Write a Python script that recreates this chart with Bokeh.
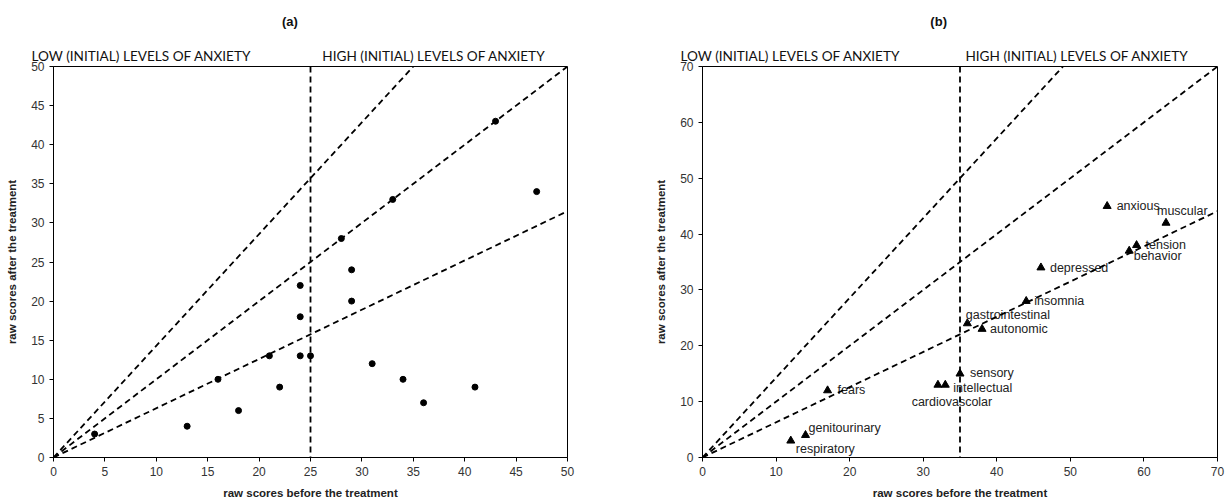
from bokeh.plotting import figure
from bokeh.layouts import row
from bokeh.models import Range1d, Span, Slope, FixedTicker, ColumnDataSource, LinearAxis
from bokeh.core.properties import value
from bokeh.embed import file_html
from bokeh.resources import INLINE

# ---- data (a) ----
a_before = [4, 13, 16, 18, 21, 22, 24, 24, 24, 25, 28, 29, 29, 31, 33, 34, 36, 41, 43, 47]
a_after = [3, 4, 10, 6, 13, 9, 22, 18, 13, 13, 28, 24, 20, 12, 33, 10, 7, 9, 43, 34]
a_ticks = [0, 5, 10, 15, 20, 25, 30, 35, 40, 45, 50]
a_cut = 25

# ---- data (b) ----
b_names = ["respiratory", "genitourinary", "fears", "cardiovascolar", "intellectual",
           "sensory", "gastrointestinal", "autonomic", "insomnia", "depressed",
           "anxious", "muscular", "tension", "behavior"]
b_before = [12, 14, 17, 32, 33, 35, 36, 38, 44, 46, 55, 63, 59, 58]
b_after = [3, 4, 12, 13, 13, 15, 24, 23, 28, 34, 45, 42, 38, 37]
b_ticks = [0, 10, 20, 30, 40, 50, 60, 70]
b_cut = 35

# reference line gradients
slopes = [1 / 0.7, 1.0, 0.63]

header_texts = ["LOW (INITIAL) LEVELS OF ANXIETY", "HIGH (INITIAL) LEVELS OF ANXIETY"]

# label placement (screen px offsets; style only)
lab_dx = [5, 3, 10, 14, 8, 10, -1.5, 8, 8, 9, 9.5, -9, 9, 4.5]
lab_dy = [8, -7, 0, 17, 3, -1, -8.5, 0, 0, 0, 0, -12, 0, 5]
lab_align = ["left", "left", "left", "center", "left", "left", "left", "left", "left",
             "left", "left", "left", "left", "left"]

TICK_FONT = "Liberation Sans"
HEAD_FONT = "Lato"
XT = "raw scores before the treatment"
YT = "raw scores after the treatment"


def base_fig(width, left, right, xmax, ticks):
    p = figure(width=width, height=504, output_backend="svg", toolbar_location=None,
               x_range=Range1d(0, xmax), y_range=Range1d(0, xmax),
               min_border_left=left, min_border_right=right,
               min_border_top=66, min_border_bottom=47)
    p.grid.visible = False
    p.outline_line_color = "black"
    p.outline_line_width = 1
    p.background_fill_color = "white"
    p.border_fill_color = "white"
    for ax, lab in ((p.xaxis, XT), (p.yaxis, YT)):
        ax.ticker = FixedTicker(ticks=ticks)
        ax.axis_label = lab
        ax.axis_label_text_font = TICK_FONT
        ax.axis_label_text_font_style = "bold"
        ax.axis_label_text_font_size = "11.5px"
        ax.axis_label_text_color = "#222222"
        ax.major_label_text_font = TICK_FONT
        ax.major_label_text_font_size = "12px"
        ax.major_label_text_color = "#333333"
        ax.axis_line_color = "black"
        ax.major_tick_line_color = "black"
        ax.major_tick_in = 0
        ax.major_tick_out = 4
        ax.minor_tick_line_color = None
        ax.major_label_standoff = 5
    p.xaxis.axis_label_standoff = 8
    p.yaxis.axis_label_standoff = 10
    for g in slopes:
        p.add_layout(Slope(gradient=g, y_intercept=0, line_color="black",
                           line_width=1.8, line_dash="6 4"))
    return p


def text_axis(p, positions, texts, font, size, style, standoff):
    ax = LinearAxis(ticker=FixedTicker(ticks=positions),
                    major_label_overrides=dict(zip(positions, texts)))
    ax.axis_line_color = None
    ax.major_tick_line_color = None
    ax.minor_tick_line_color = None
    ax.major_tick_in = 0
    ax.major_tick_out = 0
    ax.major_label_standoff = standoff
    ax.major_label_text_font = font
    ax.major_label_text_font_size = size
    ax.major_label_text_font_style = style
    ax.major_label_text_color = "#111111"
    p.add_layout(ax, "above")


# ---- panel (a) ----
pa = base_fig(615, 53, 48, 50, a_ticks)
pa.add_layout(Span(location=a_cut, dimension="height", line_color="black",
                   line_width=1.8, line_dash="6 4"))
pa.scatter(a_before, a_after, size=6, color="black", marker="circle")
text_axis(pa, [8.56, 37.0], header_texts, HEAD_FONT, "13.6px", "normal", 3)
text_axis(pa, [23.0], ["(a)"], TICK_FONT, "13px", "bold", 16)

# ---- panel (b) ----
pb = base_fig(614, 87, 12, 70, b_ticks)
pb.add_layout(Span(location=b_cut, dimension="height", line_color="black",
                   line_width=1.8, line_dash="6 4"))
src = ColumnDataSource(dict(x=b_before, y=b_after, name=b_names,
                            dx=lab_dx, dy=lab_dy, al=lab_align))
pb.scatter("x", "y", source=src, size=8, color="black", marker="triangle")
pb.text("x", "y", text="name", source=src, x_offset="dx", y_offset="dy",
        text_align="al", text_baseline="middle", text_font=value(TICK_FONT),
        text_font_size="12.5px", text_color="#222222")
text_axis(pb, [11.96, 50.9], header_texts, HEAD_FONT, "13.6px", "normal", 3)
text_axis(pb, [32.1], ["(b)"], TICK_FONT, "13px", "bold", 16)

layout = row(pa, pb)
open("out.html", "w").write(file_html(layout, INLINE))
